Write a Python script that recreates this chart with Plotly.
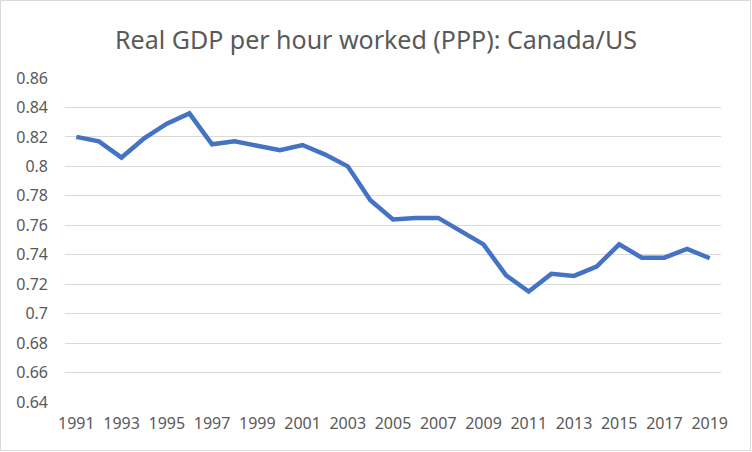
import plotly.graph_objects as go

years = [str(y) for y in range(1991, 2020)]
ratio = [0.820, 0.817, 0.806, 0.819, 0.829, 0.836, 0.815, 0.817, 0.814, 0.811,
         0.8145, 0.808, 0.800, 0.777, 0.764, 0.765, 0.765, 0.756, 0.747, 0.726,
         0.715, 0.727, 0.7256, 0.732, 0.747, 0.738, 0.738, 0.744, 0.7376]
xtick_labels = [str(y) for y in range(1991, 2020, 2)]
ytick_vals = [0.64, 0.66, 0.68, 0.70, 0.72, 0.74, 0.76, 0.78, 0.80, 0.82, 0.84, 0.86]
title_text = "Real GDP per hour worked (PPP): Canada/US"

W, H = 752, 452
L, R, T, B = 65, 31, 78, 50
pw, ph = W - L - R, H - T - B

fig = go.Figure(go.Scatter(
    x=years, y=ratio, mode="lines",
    line=dict(color="#4472C4", width=4.5, shape="linear"),
    hoverinfo="x+y",
))

fig.update_layout(
    width=W, height=H,
    margin=dict(l=L, r=R, t=T, b=B, autoexpand=False),
    paper_bgcolor="white", plot_bgcolor="white",
    showlegend=False,
    font=dict(family="Noto Sans, Open Sans, sans-serif", color="#595959", size=16),
    title=dict(text=title_text, x=0.5, xanchor="center", y=1 - 40 / H, yanchor="middle",
               font=dict(size=25, color="#595959")),
    xaxis=dict(type="category", tickmode="array", tickvals=xtick_labels, ticktext=xtick_labels,
               range=[-0.5, len(years) - 0.5],
               showgrid=False, showline=False, ticks="", zeroline=False,
               ticklabelstandoff=10, tickfont=dict(size=16)),
    yaxis=dict(range=[0.64, 0.86], tickmode="array", tickvals=ytick_vals,
               ticktext=[("%g" % v) for v in ytick_vals],
               showgrid=True, gridcolor="#D9D9D9", gridwidth=1, zeroline=False,
               showline=False, ticks="", ticklabelstandoff=16, tickfont=dict(size=16)),
    shapes=[dict(type="rect", xref="paper", yref="paper",
                 x0=-(L - 0.5) / pw, x1=(W - L - 1.5) / pw,
                 y0=-(B - 1.5) / ph, y1=(H - B - 0.5) / ph,
                 line=dict(color="#D9D9D9", width=1), layer="below")],
)

fig.write_html("out.html", config={"displayModeBar": False},
               post_script="document.body.style.margin='0';")
